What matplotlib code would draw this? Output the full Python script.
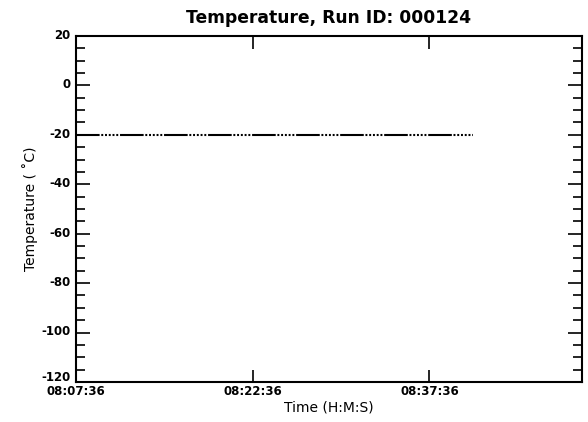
import matplotlib
matplotlib.use('Agg')
import matplotlib.pyplot as plt
import matplotlib.dates as mdates
from matplotlib.transforms import ScaledTranslation
import pandas as pd

plt.rcParams['font.family'] = ['DejaVu Sans']
plt.rcParams['axes.unicode_minus'] = False
plt.rcParams['lines.scale_dashes'] = False

# readings of the run (flat at -20 C)
times = ["08:07:36", "08:10:36", "08:13:36", "08:16:36", "08:19:36", "08:22:36",
         "08:25:36", "08:28:36", "08:31:36", "08:34:36", "08:37:36", "08:40:36",
         "08:41:20"]
temps = [-20.0, -20.0, -20.0, -20.0, -20.0, -20.0,
         -20.0, -20.0, -20.0, -20.0, -20.0, -20.0,
         -20.0]
tick_times = ["08:07:36", "08:22:36", "08:37:36"]
x_end = "08:50:33"
y_major = [20, 0, -20, -40, -60, -80, -100, -120]
y_minor = list(range(-120, 21, 5))

day = "2000-01-01 "
t = pd.to_datetime([day + s for s in times])
tt = pd.to_datetime([day + s for s in tick_times])

fig = plt.figure(figsize=(5.88, 4.22), dpi=100)
ax = fig.add_axes([0.1293, 0.0948, 0.8605, 0.8199])

# dash-dot pattern: long dash then a row of small dots
pat = (0, (17, 1.2, 1.4, 1.3, 1.4, 1.3, 1.4, 1.3, 1.4, 1.3, 1.4, 1.3))
ax.plot(t, temps, color='black', lw=1.5, linestyle=pat)

ax.set_xlim(t[0], pd.Timestamp(day + x_end))
ax.set_ylim(-120, 20)
ax.set_xticks(tt)
ax.xaxis.set_major_formatter(mdates.DateFormatter('%H:%M:%S'))
ax.set_yticks(y_major)
ax.set_yticks(y_minor, minor=True)

ax.tick_params(axis='x', which='major', direction='in', top=True, length=9, width=1.2,
               labelsize=8.5, pad=2)
ax.tick_params(axis='y', which='major', direction='in', right=True, length=10, width=1.2,
               labelsize=8.5, pad=4)
ax.tick_params(axis='y', which='minor', direction='in', right=True, length=6.5, width=1.2)
for lab in ax.get_xticklabels() + ax.get_yticklabels():
    lab.set_fontweight('bold')
for sp in ax.spines.values():
    sp.set_linewidth(1.5)

# nudge y labels up a bit, the bottom one more so it clears the time label
for i, lab in enumerate(ax.get_yticklabels()):
    dy = 4 if y_major[i] == -120 else 1.5
    lab.set_transform(lab.get_transform() + ScaledTranslation(0, dy / 72, fig.dpi_scale_trans))

ax.set_title('Temperature, Run ID: 000124', fontsize=12.3, fontweight='bold', pad=9.5)
ax.set_xlabel('Time (H:M:S)', fontsize=10, labelpad=2)
ax.set_ylabel('Temperature ( \u02daC)', fontsize=10, labelpad=2)

fig.savefig('out.png', dpi=100)
